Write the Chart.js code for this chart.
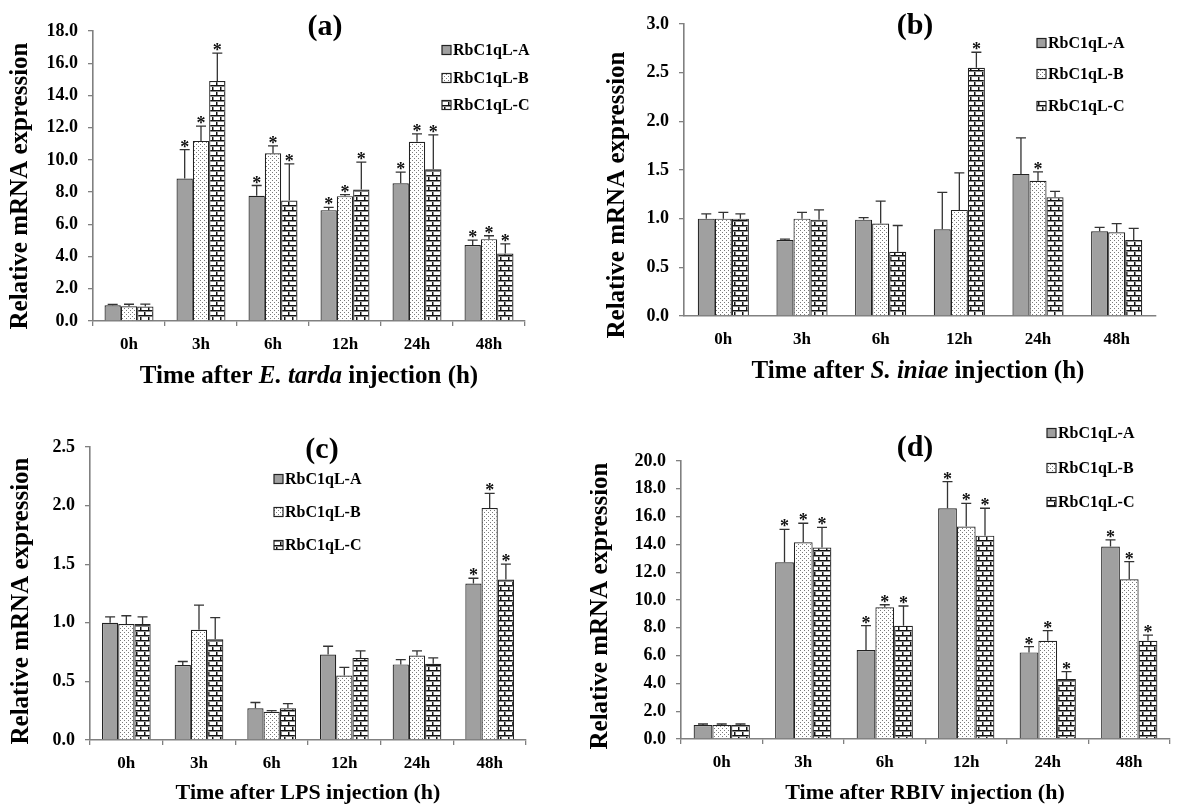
<!DOCTYPE html>
<html>
<head>
<meta charset="utf-8">
<title>RbC1qL expression after challenge</title>
<script src="https://cdn.jsdelivr.net/npm/chart.js@4.4.1/dist/chart.umd.min.js"></script>
<style>
    html, body { margin: 0; padding: 0; background: #fff; }
    #stage { position: relative; width: 1178px; height: 805px; overflow: hidden; }
    #stage canvas { position: absolute; }
</style>
</head>
<body>
<div id="stage">
    <canvas id="chartA"></canvas>
    <canvas id="chartB"></canvas>
    <canvas id="chartC"></canvas>
    <canvas id="chartD"></canvas>
</div>
<script>
const hours = ['0h', '3h', '6h', '12h', '24h', '48h'];
const genes = ['RbC1qL-A', 'RbC1qL-B', 'RbC1qL-C'];

// (a) E. tarda
const tardaA = [0.98, 8.84, 7.77, 6.88, 8.55, 4.71];
const tardaB = [0.92, 11.18, 10.41, 7.75, 11.12, 5.08];
const tardaC = [0.90, 14.90, 7.48, 8.16, 9.42, 4.19];
const tardaErrA = [0.05, 1.80, 0.64, 0.17, 0.69, 0.31];
const tardaErrB = [0.12, 0.91, 0.46, 0.10, 0.49, 0.21];
const tardaErrC = [0.15, 1.73, 2.27, 1.70, 2.13, 0.60];
const tardaStarA = [0, 1, 1, 1, 1, 1];
const tardaStarB = [0, 1, 1, 1, 1, 1];
const tardaStarC = [0, 1, 1, 1, 1, 1];

// (b) S. iniae
const iniaeA = [1.00, 0.78, 0.99, 0.89, 1.46, 0.87];
const iniaeB = [1.00, 1.00, 0.95, 1.09, 1.39, 0.86];
const iniaeC = [1.00, 0.99, 0.66, 2.55, 1.22, 0.78];
const iniaeErrA = [0.05, 0.01, 0.02, 0.38, 0.37, 0.04];
const iniaeErrB = [0.065, 0.065, 0.23, 0.38, 0.09, 0.09];
const iniaeErrC = [0.05, 0.10, 0.27, 0.16, 0.06, 0.12];
const iniaeStarA = [0, 0, 0, 0, 0, 0];
const iniaeStarB = [0, 0, 0, 0, 1, 0];
const iniaeStarC = [0, 0, 0, 1, 0, 0];

// (c) LPS
const lpsA = [1.00, 0.64, 0.27, 0.73, 0.645, 1.335];
const lpsB = [0.99, 0.94, 0.24, 0.55, 0.72, 1.98];
const lpsC = [0.99, 0.86, 0.27, 0.70, 0.65, 1.37];
const lpsErrA = [0.05, 0.03, 0.05, 0.07, 0.04, 0.045];
const lpsErrB = [0.07, 0.21, 0.01, 0.07, 0.04, 0.125];
const lpsErrC = [0.06, 0.185, 0.04, 0.06, 0.05, 0.13];
const lpsStarA = [0, 0, 0, 0, 0, 1];
const lpsStarB = [0, 0, 0, 0, 0, 1];
const lpsStarC = [0, 0, 0, 0, 0, 1];

// (d) RBIV
const rbivA = [1.00, 12.71, 6.40, 16.60, 6.23, 13.84];
const rbivB = [1.00, 14.15, 9.47, 15.28, 7.07, 11.49];
const rbivC = [1.00, 13.77, 8.15, 14.63, 4.32, 7.07];
const rbivErrA = [0.08, 2.37, 1.75, 1.91, 0.41, 0.48];
const rbivErrB = [0.08, 1.37, 0.19, 1.67, 0.72, 1.27];
const rbivErrC = [0.08, 1.46, 1.42, 1.97, 0.52, 0.41];
const rbivStarA = [0, 1, 1, 1, 1, 1];
const rbivStarB = [0, 1, 1, 1, 1, 1];
const rbivStarC = [0, 1, 1, 1, 1, 1];

const SERIF = "'Liberation Serif', 'Times New Roman', serif";
const AXIS_GREY = '#808080';

function dotPattern() {
    const c = document.createElement('canvas');
    c.width = 4; c.height = 4;
    const g = c.getContext('2d');
    g.fillStyle = '#fff';
    g.fillRect(0, 0, 4, 4);
    g.fillStyle = '#7a7a7a';
    g.fillRect(0, 0, 1, 1);
    g.fillRect(2, 2, 1, 1);
    return g.createPattern(c, 'repeat');
}

// white bricks with thin dark mortar lines, rows offset by half a brick
function brickPattern() {
    const c = document.createElement('canvas');
    c.width = 8; c.height = 10;
    const g = c.getContext('2d');
    g.fillStyle = '#fff';
    g.fillRect(0, 0, 8, 10);
    g.fillStyle = '#111';
    g.fillRect(0, 0, 8, 1);
    g.fillRect(0, 5, 8, 1);
    g.fillRect(0, 1, 1, 4);
    g.fillRect(4, 6, 1, 4);
    g.fillStyle = '#8a8a8a';
    g.fillRect(0, 1, 8, 1);
    g.fillRect(0, 6, 8, 1);
    g.fillRect(1, 2, 1, 3);
    g.fillRect(5, 7, 1, 3);
    return g.createPattern(c, 'repeat');
}

const fills = ['#a0a0a0', dotPattern(), brickPattern()];

// error bars, stars, titles and the in-plot legend
const decorations = {
    id: 'decorations',
    afterDatasetsDraw(chart) {
        const ctx = chart.ctx;
        const y = chart.scales.y;
        ctx.save();
        chart.data.datasets.forEach((ds, i) => {
            chart.getDatasetMeta(i).data.forEach((bar, j) => {
                const top = y.getPixelForValue(ds.data[j] + ds.errors[j]);
                ctx.strokeStyle = '#333';
                ctx.lineWidth = 1.3;
                ctx.beginPath();
                ctx.moveTo(bar.x, bar.y);
                ctx.lineTo(bar.x, top);
                ctx.moveTo(bar.x - 5, top);
                ctx.lineTo(bar.x + 5, top);
                ctx.stroke();
                if (ds.stars[j]) {
                    ctx.fillStyle = '#111';
                    ctx.font = 'bold 18px ' + SERIF;
                    ctx.textAlign = 'center';
                    ctx.textBaseline = 'alphabetic';
                    ctx.fillText('*', bar.x, top + 3);
                }
            });
        });
        ctx.restore();
    },
    afterDraw(chart) {
        const p = chart.options.plugins.decorations;
        const ctx = chart.ctx;
        ctx.save();
        ctx.fillStyle = '#000';

        // panel letter
        ctx.font = 'bold 30px ' + SERIF;
        ctx.textAlign = 'center';
        ctx.textBaseline = 'middle';
        ctx.fillText(p.letter, p.letterAt[0], p.letterAt[1]);

        // y title
        ctx.save();
        ctx.translate(p.yTitleAt[0], p.yTitleAt[1]);
        ctx.rotate(-Math.PI / 2);
        ctx.font = 'bold 25px ' + SERIF;
        ctx.fillText('Relative mRNA expression', 0, 0);
        ctx.restore();

        // x title, with an italic species name
        const parts = p.xTitle;
        const fontOf = part => (part.italic ? 'italic bold ' : 'bold ') + p.xTitleSize + 'px ' + SERIF;
        let total = 0;
        parts.forEach(part => { ctx.font = fontOf(part); total += ctx.measureText(part.text).width; });
        let x = p.xTitleAt[0] - total / 2;
        ctx.textAlign = 'left';
        parts.forEach(part => {
            ctx.font = fontOf(part);
            ctx.fillText(part.text, x, p.xTitleAt[1]);
            x += ctx.measureText(part.text).width;
        });

        // legend
        chart.data.datasets.forEach((ds, i) => {
            const ly = p.legendY[i];
            ctx.fillStyle = ds.backgroundColor;
            ctx.fillRect(p.legendX, ly - 4.5, 9, 9);
            ctx.strokeStyle = '#222';
            ctx.lineWidth = 1.2;
            ctx.strokeRect(p.legendX, ly - 4.5, 9, 9);
            ctx.fillStyle = '#000';
            ctx.font = 'bold 16px ' + SERIF;
            ctx.textBaseline = 'middle';
            ctx.fillText(ds.label, p.legendX + 11, ly + 1);
        });
        ctx.restore();
    }
};

function makePanel(id, box, area, yMax, step, values, errors, stars, deco, xTicks) {
    const canvas = document.getElementById(id);
    canvas.width = box.w;
    canvas.height = box.h;
    canvas.style.left = box.x + 'px';
    canvas.style.top = box.y + 'px';

    const tickFont = { family: SERIF, size: 18, weight: 'bold' };
    const local = (pt) => [pt[0] - box.x, pt[1] - box.y];

    return new Chart(canvas, {
        type: 'bar',
        data: {
            labels: hours,
            datasets: genes.map((name, i) => ({
                label: name,
                data: values[i],
                errors: errors[i],
                stars: stars[i],
                backgroundColor: fills[i],
                borderColor: '#222',
                borderWidth: 1.2,
                categoryPercentage: area.cat,
                barPercentage: 1
            }))
        },
        options: {
            responsive: false,
            animation: false,
            layout: { padding: { left: 0, right: box.x + box.w - area.r, top: area.t - box.y, bottom: 0 } },
            plugins: {
                legend: { display: false },
                tooltip: { enabled: false },
                decorations: {
                    letter: deco.letter,
                    letterAt: local(deco.letterAt),
                    yTitleAt: local(deco.yTitleAt),
                    xTitleAt: local(deco.xTitleAt),
                    xTitle: deco.xTitle,
                    xTitleSize: deco.xTitleSize,
                    legendX: deco.legendX - box.x,
                    legendY: deco.legendY.map(v => v - box.y)
                }
            },
            scales: {
                x: {
                    afterFit: s => { s.height = box.y + box.h - area.b; },
                    grid: { display: xTicks, drawOnChartArea: false, drawTicks: true, tickLength: 5, color: AXIS_GREY, lineWidth: 1.3 },
                    border: { display: true, color: AXIS_GREY, width: 1.6 },
                    ticks: { color: '#000', font: { family: SERIF, size: 17, weight: 'bold' }, padding: 8, maxRotation: 0 }
                },
                y: {
                    min: 0,
                    max: yMax,
                    afterFit: s => { s.width = area.l - box.x; },
                    grid: { display: true, drawOnChartArea: false, drawTicks: true, tickLength: 5, color: AXIS_GREY, lineWidth: 1.3 },
                    border: { display: true, color: AXIS_GREY, width: 1.6 },
                    ticks: { stepSize: step, color: '#000', font: tickFont, padding: 10, callback: v => v.toFixed(1) }
                }
            }
        },
        plugins: [decorations]
    });
}

window.onload = () => {
    makePanel('chartA',
        { x: 0, y: 0, w: 590, h: 400 },
        { l: 93, r: 525, t: 31, b: 321, cat: 0.68 },
        18, 2,
        [tardaA, tardaB, tardaC], [tardaErrA, tardaErrB, tardaErrC], [tardaStarA, tardaStarB, tardaStarC],
        {
            letter: '(a)', letterAt: [325, 27], yTitleAt: [21, 186], xTitleAt: [309, 377], xTitleSize: 25,
            xTitle: [{ text: 'Time after ' }, { text: 'E. tarda', italic: true }, { text: ' injection (h)' }],
            legendX: 442, legendY: [50, 78, 105]
        }, true);

    makePanel('chartB',
        { x: 590, y: 0, w: 588, h: 400 },
        { l: 684, r: 1156, t: 24, b: 316, cat: 0.65 },
        3, 0.5,
        [iniaeA, iniaeB, iniaeC], [iniaeErrA, iniaeErrB, iniaeErrC], [iniaeStarA, iniaeStarB, iniaeStarC],
        {
            letter: '(b)', letterAt: [915, 26], yTitleAt: [618, 195], xTitleAt: [918, 372], xTitleSize: 25,
            xTitle: [{ text: 'Time after ' }, { text: 'S. iniae', italic: true }, { text: ' injection (h)' }],
            legendX: 1037, legendY: [43, 74, 106]
        }, false);

    makePanel('chartC',
        { x: 0, y: 400, w: 590, h: 405 },
        { l: 90, r: 526, t: 447, b: 740, cat: 0.67 },
        2.5, 0.5,
        [lpsA, lpsB, lpsC], [lpsErrA, lpsErrB, lpsErrC], [lpsStarA, lpsStarB, lpsStarC],
        {
            letter: '(c)', letterAt: [322, 450], yTitleAt: [22, 601], xTitleAt: [308, 793], xTitleSize: 22,
            xTitle: [{ text: 'Time after LPS injection (h)' }],
            legendX: 274, legendY: [479, 512, 545]
        }, true);

    makePanel('chartD',
        { x: 590, y: 400, w: 588, h: 405 },
        { l: 681, r: 1170, t: 461, b: 739, cat: 0.69 },
        20, 2,
        [rbivA, rbivB, rbivC], [rbivErrA, rbivErrB, rbivErrC], [rbivStarA, rbivStarB, rbivStarC],
        {
            letter: '(d)', letterAt: [915, 448], yTitleAt: [601, 606], xTitleAt: [925, 793], xTitleSize: 22,
            xTitle: [{ text: 'Time after RBIV injection (h)' }],
            legendX: 1047, legendY: [433, 468, 502]
        }, true);
};
</script>
</body>
</html>
